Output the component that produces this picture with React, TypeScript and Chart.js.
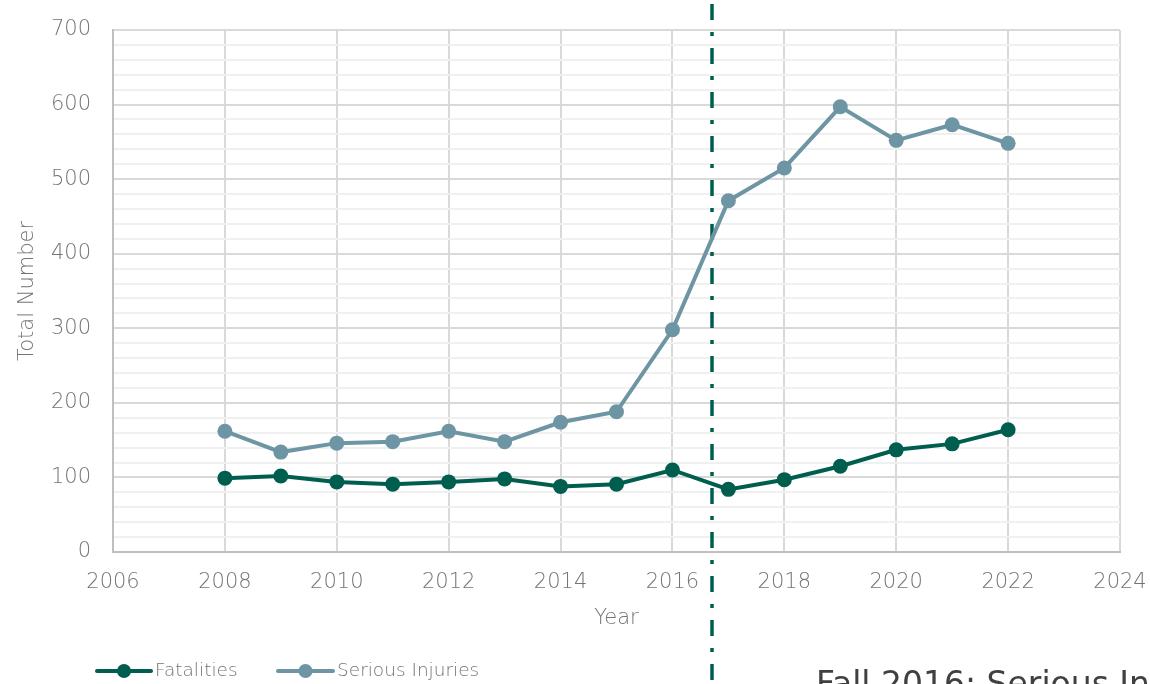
import React, { useEffect, useRef } from "react";
import { Chart, registerables } from "chart.js";

Chart.register(...registerables);

const years = [2008, 2009, 2010, 2011, 2012, 2013, 2014, 2015, 2016, 2017, 2018, 2019, 2020, 2021, 2022];
const fatalities = [99, 102, 94, 91, 94, 98, 88, 91, 110, 84, 97, 115, 137, 145, 164];
const seriousInjuries = [162, 134, 146, 148, 162, 148, 174, 188, 298, 471, 515, 597, 552, 573, 548];
const seriesLabels = ["Fatalities", "Serious Injuries"];
const seriesColors = ["#005E4F", "#6D95A4"];
const markerYear = 2016.71;
const annotationText = "Fall 2016: Serious Injuries";

const FONT = "'DejaVu Sans', sans-serif";
const TEXT_GRAY = "#747474";

const markerPlugin = {
  id: "markerLine",
  beforeDatasetsDraw(chart: any) {
    const { ctx, scales } = chart;
    const x = Math.round(scales.x.getPixelForValue(markerYear));
    ctx.save();
    ctx.strokeStyle = "#005E4F";
    ctx.lineWidth = 3.5;
    ctx.setLineDash([16, 12, 4, 12]);
    ctx.beginPath();
    ctx.moveTo(x, 4);
    ctx.lineTo(x, chart.height);
    ctx.stroke();
    ctx.restore();
  },
  afterDraw(chart: any) {
    const { ctx } = chart;
    ctx.save();
    ctx.fillStyle = "#404040";
    ctx.font = `400 33px ${FONT}`;
    ctx.textBaseline = "alphabetic";
    ctx.textAlign = "left";
    ctx.fillText(annotationText, 816, 695);
    ctx.restore();
  },
};

const legendPlugin = {
  id: "customLegend",
  afterDraw(chart: any) {
    const { ctx } = chart;
    const items = [
      { x0: 97, x1: 151, tx: 155 },
      { x0: 278, x1: 333, tx: 337 },
    ];
    const y = 671;
    ctx.save();
    chart.data.datasets.forEach((ds: any, i: number) => {
      const it = items[i];
      ctx.strokeStyle = ds.borderColor;
      ctx.lineWidth = 4;
      ctx.lineCap = "round";
      ctx.beginPath();
      ctx.moveTo(it.x0, y);
      ctx.lineTo(it.x1, y);
      ctx.stroke();
      ctx.fillStyle = ds.borderColor;
      ctx.beginPath();
      ctx.arc((it.x0 + it.x1) / 2, y, 7, 0, Math.PI * 2);
      ctx.fill();
      ctx.fillStyle = TEXT_GRAY;
      ctx.font = `200 18.5px ${FONT}`;
      ctx.textBaseline = "middle";
      ctx.textAlign = "left";
      ctx.fillText(ds.label, it.tx, y);
    });
    ctx.restore();
  },
};

export default function App() {
  const ref = useRef<HTMLCanvasElement | null>(null);

  useEffect(() => {
    document.body.style.margin = "0";
    if (!ref.current) return;
    const mk = (vals: number[]) => years.map((x, i) => ({ x, y: vals[i] }));
    const chart = new Chart(ref.current, {
      type: "line",
      data: {
        datasets: [
          {
            label: seriesLabels[0],
            data: mk(fatalities),
            borderColor: seriesColors[0],
            backgroundColor: seriesColors[0],
            pointBackgroundColor: seriesColors[0],
            borderWidth: 4,
            pointRadius: 7.5,
            pointBorderWidth: 0,
            tension: 0,
          },
          {
            label: seriesLabels[1],
            data: mk(seriousInjuries),
            borderColor: seriesColors[1],
            backgroundColor: seriesColors[1],
            pointBackgroundColor: seriesColors[1],
            borderWidth: 4,
            pointRadius: 7.5,
            pointBorderWidth: 0,
            tension: 0,
          },
        ],
      },
      options: {
        responsive: false,
        animation: false,
        layout: { padding: { top: 30, right: 30, left: 0, bottom: 0 } },
        plugins: { legend: { display: false }, tooltip: { enabled: false } },
        scales: {
          x: {
            type: "linear",
            min: 2006,
            max: 2024,
            afterFit(scale: any) {
              scale.height = 132;
              scale.paddingLeft = 0;
              scale.paddingRight = 0;
            },
            ticks: {
              stepSize: 2,
              padding: 18,
              color: TEXT_GRAY,
              font: { family: FONT, size: 21, weight: "200" },
              callback: (v: any) => String(v),
            },
            grid: { color: "#d9d9d9", lineWidth: 2, drawTicks: false },
            border: { color: "#bfbfbf", width: 2 },
            title: {
              display: true,
              text: "Year",
              color: TEXT_GRAY,
              font: { family: FONT, size: 21, weight: "200" },
              padding: { top: 0, bottom: 53 },
            },
          },
          y: {
            min: 0,
            max: 700,
            afterFit(scale: any) {
              scale.width = 113;
              scale.paddingTop = 0;
              scale.paddingBottom = 0;
            },
            ticks: {
              stepSize: 20,
              padding: 22,
              color: TEXT_GRAY,
              font: { family: FONT, size: 21, weight: "200" },
              callback: (v: any) => (Number(v) % 100 === 0 ? String(v) : ""),
              autoSkip: false,
            },
            grid: {
              color: (c: any) => (c.tick && c.tick.value % 100 === 0 ? "#d9d9d9" : "#f0f0f0"),
              lineWidth: 2,
              drawTicks: false,
            },
            border: { color: "#bfbfbf", width: 2 },
            title: {
              display: true,
              text: "Total Number",
              color: TEXT_GRAY,
              font: { family: FONT, size: 21, weight: "200" },
              padding: { top: 15, bottom: 0 },
            },
          },
        },
      },
      plugins: [markerPlugin, legendPlugin],
    } as any);
    return () => chart.destroy();
  }, []);

  return (
    <div style={{ position: "absolute", left: 0, top: 0, width: 1150, height: 684, overflow: "hidden", background: "#fff" }}>
      <canvas ref={ref} width={1150} height={684} style={{ display: "block" }} />
    </div>
  );
}
